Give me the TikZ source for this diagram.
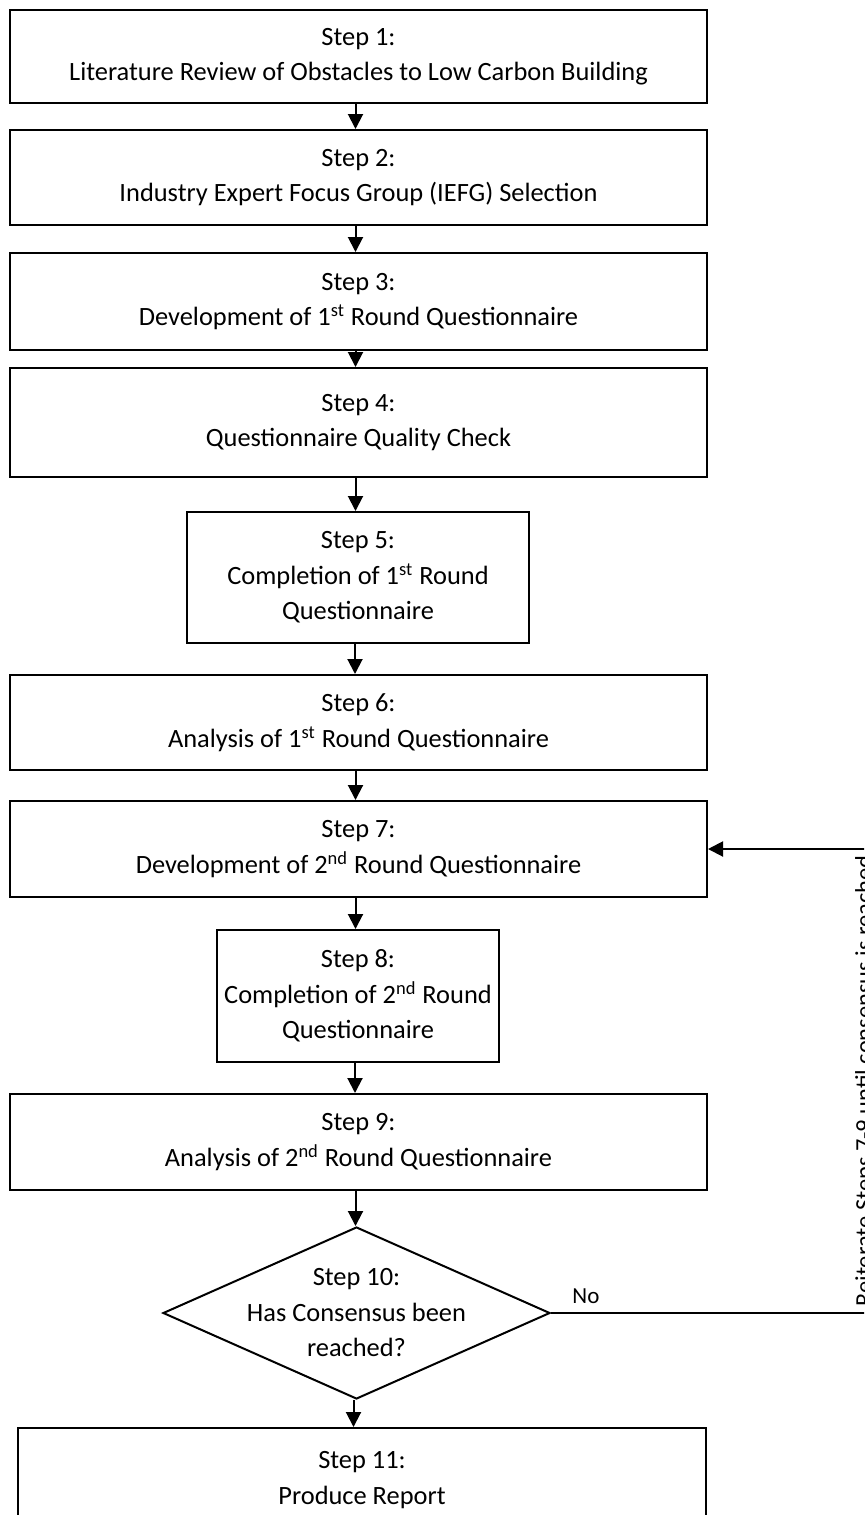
\documentclass[tikz,border=0pt]{standalone}
\usepackage{fontspec}
\setmainfont{Carlito}
\usetikzlibrary{arrows.meta,shapes.geometric}
\newcommand\stepfont{\fontsize{13.2}{17.75}\selectfont}
\newcommand\notefont{\fontsize{11.5}{14}\selectfont}
\newcommand\loopfont{\fontsize{12.2}{14}\selectfont}
\tikzset{
  box/.style={draw,line width=1pt,align=center,inner sep=2pt,minimum width=348.5pt,minimum height=48pt,font=\stepfont},
  smallbox/.style={box,minimum width=171pt,minimum height=65.5pt},
  decision/.style={draw,line width=1pt,diamond,inner sep=0pt,minimum width=193.5pt,minimum height=86pt},
  plain/.style={align=center,inner sep=0pt,font=\stepfont},
  lbl/.style={inner sep=0pt,font=\notefont},
  flow/.style={-{Triangle[length=7.5pt,width=7.5pt]},line width=1pt}}
\begin{document}
\begin{tikzpicture}[x=0.5pt,y=-0.5pt]
  \useasboundingbox (0,0) rectangle (864,1515);
  \clip (0,0) rectangle (864,1515);
  \node[box,minimum height=46.5pt] (s1) at (358.5,56.5) {Step 1:\\Literature Review of Obstacles to Low Carbon Building};
  \node[box,minimum height=47.5pt] (s2) at (358.5,177.5) {Step 2:\\Industry Expert Focus Group (IEFG) Selection};
  \node[box,minimum height=48.5pt] (s3) at (358.5,301.5) {Step 3:\\Development of 1\textsuperscript{st} Round Questionnaire};
  \node[box,minimum height=54.5pt] (s4) at (358.5,422.5) {Step 4:\\Questionnaire Quality Check};
  \node[smallbox] (s5) at (358,577.5) {Step 5:\\Completion of 1\textsuperscript{st} Round\\Questionnaire};
  \node[box,minimum height=47.5pt] (s6) at (358.5,722.5) {Step 6:\\Analysis of 1\textsuperscript{st} Round Questionnaire};
  \node[box] (s7) at (358.5,849) {Step 7:\\Development of 2\textsuperscript{nd} Round Questionnaire};
  \node[smallbox,minimum width=141pt,minimum height=66pt] (s8) at (358,996) {Step 8:\\Completion of 2\textsuperscript{nd} Round\\Questionnaire};
  \node[box] (s9) at (358.5,1142) {Step 9:\\Analysis of 2\textsuperscript{nd} Round Questionnaire};
  \node[decision] (dec) at (356.5,1313) {};
  \node[plain] (dectext) at (dec.center) {Step 10:\\Has Consensus been\\reached?};
  \node[box,minimum width=344pt,minimum height=52pt] (s11) at (362,1480) {Step 11:\\Produce Report};
  \foreach \a/\b in {s1/s2,s2/s3,s3/s4,s4/s5,s5/s6,s6/s7,s7/s8,s8/s9,s9/dec,dec/s11}
    \draw[flow] ([xshift=-1.5pt]\a.south) -- ([xshift=-1.5pt]\a.south |- \b.north);
  \coordinate (back) at (900,1100);
  \draw[flow] (dec.east) -| (back) |- (s7.east);
  \node[lbl,anchor=base west] (no) at (572,1303) {No};
  \node[lbl,font=\loopfont,rotate=90,anchor=base] (loop) at (872,1081) {Reiterate Steps 7-9 until consensus is reached};
\end{tikzpicture}
\end{document}
